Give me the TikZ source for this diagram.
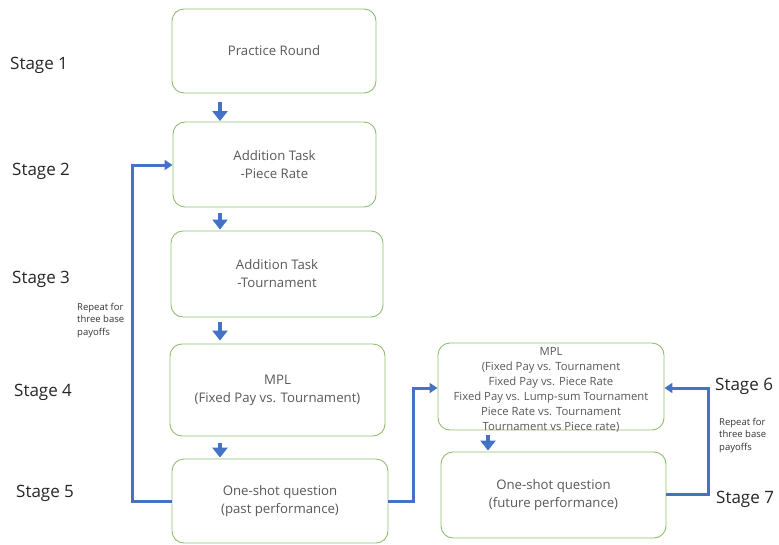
\documentclass[tikz,border=0pt]{standalone}
\usepackage{fontspec}
\setmainfont{Open Sans}
\usetikzlibrary{arrows.meta,calc}
\definecolor{boxline}{HTML}{8FBF6E}
\definecolor{txtgray}{HTML}{595959}
\definecolor{flowblue}{HTML}{4472C4}
\tikzset{
  stagebox/.style={draw=boxline, line width=0.9pt, fill=white, rounded corners=12pt, align=center, text=txtgray, font=\fontsize{13.2}{18}\selectfont, inner sep=0pt},
  stagelbl/.style={anchor=west, font=\fontsize{17}{20}\selectfont, text=black!85, inner sep=0pt},
  repeatlbl/.style={anchor=north west, align=left, font=\fontsize{9.5}{12.3}\selectfont, text=black!80, inner sep=0pt},
  blk/.style={draw=flowblue, line width=4.5pt, -{Triangle[width=15pt,length=10pt]}},
  loopline/.style={draw=flowblue, line width=3pt, -{Triangle[width=10pt,length=8pt]}}
}
\begin{document}
\begin{tikzpicture}[x=1pt,y=-1pt]
\useasboundingbox (0,0) rectangle (779,544);
% boxes
\node[stagebox, minimum width=204pt, minimum height=84pt] (b1) at (274,51) {Practice Round};
\node[stagebox, minimum width=203pt, minimum height=85pt] (b2) at (274.5,164.5) {Addition Task\\ -Piece Rate};
\node[stagebox, minimum width=212pt, minimum height=86pt] (b3) at (277,274) {Addition Task\\ -Tournament};
\node[stagebox, minimum width=215pt, minimum height=92pt] (b4) at (277.5,390) {MPL\\(Fixed Pay vs. Tournament)};
\node[stagebox, minimum width=216pt, minimum height=84pt] (b5) at (280,501) {One-shot question\\(past performance)};
\node[stagebox, minimum width=226pt, minimum height=87pt] (b6) at (551,386.5) {};
\node[align=center, text=txtgray, font=\fontsize{11.3}{15}\selectfont, inner sep=0pt] (b6t) at (551,389.5) {MPL\\(Fixed Pay vs. Tournament\\Fixed Pay vs. Piece Rate\\Fixed Pay vs. Lump-sum Tournament\\Piece Rate vs. Tournament\\Tournament vs Piece rate)};
\node[stagebox, minimum width=225pt, minimum height=86pt] (b7) at (553.5,495) {One-shot question\\(future performance)};
% stage labels
\node[stagelbl] (s1) at (10,65) {Stage 1};
\node[stagelbl] (s2) at (12,171) {Stage 2};
\node[stagelbl] (s3) at (12,279) {Stage 3};
\node[stagelbl] (s4) at (14,392) {Stage 4};
\node[stagelbl] (s5) at (16,493) {Stage 5};
\node[stagelbl] (s6) at (715,386) {Stage 6};
\node[stagelbl] (s7) at (716,499) {Stage 7};
\node[repeatlbl] (r1) at (77,303) {Repeat for\\three base\\payoffs};
\node[repeatlbl] (r2) at (719,418) {Repeat for\\three base\\payoffs};
% block arrows
\coordinate (xa) at (220,0);
\coordinate (xb) at (488,0);
\draw[blk, shorten <=9pt, shorten >=0.5pt] (b1.south -| xa) -- (b2.north -| xa);
\draw[blk, shorten <=6pt, shorten >=1pt] (b2.south -| xa) -- (b3.north -| xa);
\draw[blk, shorten <=5pt, shorten >=3pt] (b3.south -| xa) -- (b4.north -| xa);
\draw[blk, shorten <=7pt, shorten >=1pt] (b4.south -| xa) -- (b5.north -| xa);
\draw[blk, shorten <=5pt, shorten >=1pt] (b6.south -| xb) -- (b7.north -| xb);
% loops
\coordinate (lx) at (132,0);
\coordinate (mx) at (413,0);
\coordinate (rx) at (708,0);
\coordinate (y5) at (0,501);
\coordinate (y2) at (0,165);
\coordinate (y6) at (0,388);
\coordinate (y7) at (0,494);
\draw[loopline] (b5.west |- y5) -- (lx |- y5) -- (lx |- y2) -- (b2.west |- y2);
\draw[loopline] (b5.east |- y5) -- (mx |- y5) -- (mx |- y6) -- (b6.west |- y6);
\draw[loopline] (b7.east |- y7) -- (rx |- y7) -- (rx |- y6) -- (b6.east |- y6);
\end{tikzpicture}
\end{document}
